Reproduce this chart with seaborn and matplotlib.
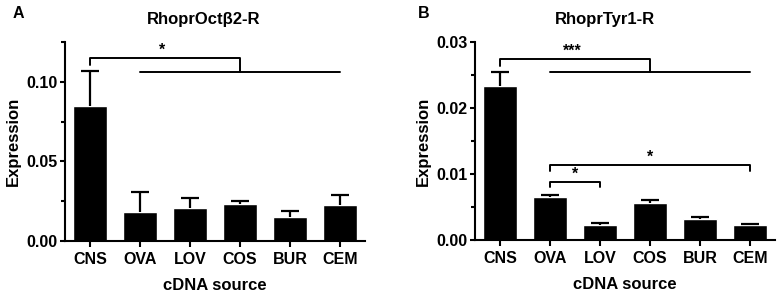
import numpy as np
import matplotlib
matplotlib.use('Agg')
import matplotlib.pyplot as plt
import seaborn as sns

# Values (mean and upper SEM)
sources = ['CNS', 'OVA', 'LOV', 'COS', 'BUR', 'CEM']
octb2_mean = [0.0846, 0.0180, 0.0203, 0.0230, 0.0150, 0.0224]
octb2_sem = [0.0226, 0.0126, 0.0065, 0.0019, 0.0040, 0.0065]
tyr1_mean = [0.0234, 0.00648, 0.00223, 0.0056, 0.00323, 0.00228]
tyr1_sem = [0.0021, 0.0004, 0.0004, 0.0004, 0.00027, 0.0002]

# Significance brackets: (left idx, right idx, height, leg drop, label)
octb2_brackets = [(0, 3, 0.115, 0.004, '*')]
octb2_group_line = (1, 5, 0.1063)
tyr1_brackets = [(0, 3, 0.02747, 0.0010, '***'),
                 (1, 2, 0.00885, 0.0008, '*'),
                 (1, 5, 0.01138, 0.0009, '*')]
tyr1_group_line = (1, 5, 0.0255)

sns.set_style('ticks')
plt.rcParams['font.family'] = ['Liberation Sans', 'DejaVu Sans']
plt.rcParams['font.weight'] = 'bold'
plt.rcParams['axes.labelweight'] = 'bold'
plt.rcParams['axes.linewidth'] = 1.5
for key in ['text.color', 'axes.labelcolor', 'xtick.color', 'ytick.color',
            'axes.edgecolor']:
    plt.rcParams[key] = 'black'

fig = plt.figure(figsize=(7.8, 2.92), dpi=100)
axA = fig.add_axes([0.0833, 0.1757, 0.3846, 0.6794])
axB = fig.add_axes([0.609, 0.178, 0.3846, 0.677])


def draw_panel(ax, mean, sem, ylim, major, minor, brackets, group_line):
    sns.barplot(x=sources, y=mean, color='black', saturation=1, width=0.67,
                errorbar=None, ax=ax)
    pos = np.arange(len(sources))
    eb = ax.errorbar(pos, mean, yerr=[np.zeros(len(sem)), sem], fmt='none',
                     ecolor='black', elinewidth=1.6, capsize=6.5, capthick=1.6)
    eb[1][0].set_visible(False)  # no lower caps
    ax.set_xlim(-0.5, 5.5)
    ax.set_ylim(*ylim)
    ax.set_yticks(major)
    ax.set_yticklabels(['{:.2f}'.format(v) for v in major])
    ax.set_yticks(minor, minor=True)
    ax.tick_params(axis='both', labelsize=11.5, width=1.5, direction='out')
    ax.tick_params(axis='y', which='major', length=3.5, pad=2)
    ax.tick_params(axis='y', which='minor', length=3, width=1.5)
    ax.tick_params(axis='x', length=4, pad=4)
    ax.set_xlabel('cDNA source', fontsize=12, fontweight='bold', labelpad=8)
    ax.set_ylabel('Expression', fontsize=12, fontweight='bold', labelpad=4)
    sns.despine(ax=ax)
    for i, (l, r, h, d, lab) in enumerate(brackets):
        if i == 0:
            # first bracket drops into the group line
            ax.plot([l, l, r, r], [h - d, h, h, group_line[2]],
                    color='black', lw=1.4)
            tx = 1.45
        else:
            ax.plot([l, l, r, r], [h - d, h, h, h - d], color='black', lw=1.4)
            tx = (l + r) / 2
        ax.text(tx, h, lab, ha='center', va='bottom', fontsize=11.5,
                fontweight='bold')
    gl, gr, gh = group_line
    ax.plot([gl, gr], [gh, gh], color='black', lw=1.4)


draw_panel(axA, octb2_mean, octb2_sem, (0, 0.125), [0, 0.05, 0.10],
           [0.025, 0.075, 0.125], octb2_brackets, octb2_group_line)
draw_panel(axB, tyr1_mean, tyr1_sem, (0, 0.03), [0, 0.01, 0.02, 0.03],
           [0.005, 0.015, 0.025], tyr1_brackets, tyr1_group_line)

fig.text(0.2615, 0.934, 'RhoprOctβ2-R', ha='center', va='center',
         fontsize=12, fontweight='bold')
fig.text(0.775, 0.934, 'RhoprTyr1-R', ha='center', va='center',
         fontsize=12, fontweight='bold')
fig.text(0.023, 0.955, 'A', ha='center', va='center', fontsize=11.5,
         fontweight='bold')
fig.text(0.5435, 0.955, 'B', ha='center', va='center', fontsize=11.5,
         fontweight='bold')

fig.savefig('out.png', dpi=100)
